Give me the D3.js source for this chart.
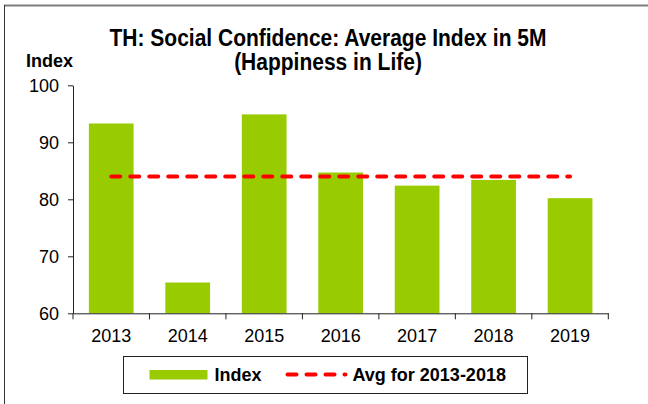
<!DOCTYPE html>
<html>
<head>
<meta charset="utf-8">
<script src="https://cdn.jsdelivr.net/npm/d3@7"></script>
<style>
  body { margin: 0; background: #fff; }
  svg { display: block; font-family: "Liberation Sans", Arial, sans-serif; }
  .axis path, .axis line { stroke: #222; }
  .axis text { font-size: 18px; fill: #000; }
</style>
</head>
<body>
<svg id="chart"></svg>
<script>
var years = ["2013", "2014", "2015", "2016", "2017", "2018", "2019"];
var indexValues = [93.3, 65.4, 94.9, 84.7, 82.4, 83.4, 80.2];
var avgValue = 84.0;
var avgYears = ["2013", "2019"];
var yTicks = [60, 70, 80, 90, 100];
var titleLines = ["TH: Social Confidence: Average Index in 5M", "(Happiness in Life)"];

var screen = {width: 648, height: 404};
var plot = {left: 73, right: 608.3, top: 85.3, bottom: 313.3};

var svg = d3.select("#chart")
    .attr("width", screen.width)
    .attr("height", screen.height);

// frame (top + left only)
svg.append("line")
    .attr("x1", 4).attr("x2", screen.width)
    .attr("y1", 5.5).attr("y2", 5.5)
    .attr("stroke", "#7f7f7f").attr("stroke-width", 2);
svg.append("line")
    .attr("x1", 4.5).attr("x2", 4.5)
    .attr("y1", 5).attr("y2", screen.height)
    .attr("stroke", "#333").attr("stroke-width", 1);

var xScale = d3.scaleBand()
    .domain(years)
    .range([plot.left, plot.right])
    .paddingInner(0.415)
    .paddingOuter(0.2075);

var yScale = d3.scaleLinear()
    .domain([60, 100])
    .range([plot.bottom, plot.top]);

// bars
svg.append("g")
    .selectAll("rect")
    .data(indexValues)
    .enter()
    .append("rect")
    .attr("x", function(d, i) { return xScale(years[i]); })
    .attr("width", xScale.bandwidth())
    .attr("y", function(d) { return yScale(d); })
    .attr("height", function(d) { return yScale(60) - yScale(d); })
    .attr("fill", "#99cc00");

// average line
var avgLine = d3.line()
    .x(function(y) { return xScale(y) + xScale.bandwidth() / 2; })
    .y(function() { return yScale(avgValue); });

svg.append("path")
    .datum(avgYears)
    .attr("d", avgLine)
    .attr("fill", "none")
    .attr("stroke", "#ff0000")
    .attr("stroke-width", 4)
    .attr("stroke-linecap", "round")
    .attr("stroke-dasharray", "9,10");

// y axis
var yAxis = d3.axisLeft(yScale)
    .tickValues(yTicks)
    .tickSize(5)
    .tickPadding(9)
    .tickSizeOuter(0);
svg.append("g")
    .attr("class", "axis")
    .attr("transform", "translate(" + plot.left + ",0)")
    .call(yAxis);

// x axis: labels centred, tick marks at category boundaries
var xAxis = d3.axisBottom(xScale)
    .tickSize(0)
    .tickPadding(15.5)
    .tickSizeOuter(0);
var xg = svg.append("g")
    .attr("class", "axis")
    .attr("transform", "translate(0," + plot.bottom + ")")
    .call(xAxis);

var half = xScale.step() * xScale.paddingInner() / 2;
var bounds = years.map(function(y) { return xScale(y) - half; });
bounds.push(xScale(years[years.length - 1]) + xScale.bandwidth() + half);
xg.selectAll(".bound")
    .data(bounds)
    .enter()
    .append("line")
    .attr("class", "bound")
    .attr("x1", function(d) { return d; })
    .attr("x2", function(d) { return d; })
    .attr("y1", 0).attr("y2", 6);

// titles
svg.append("g")
    .selectAll("text")
    .data(titleLines)
    .enter()
    .append("text")
    .text(function(d) { return d; })
    .attr("transform", function(d, i) {
        return "translate(328," + (45.7 + i * 24.3) + ") scale(1,1.1)";
    })
    .attr("text-anchor", "middle")
    .attr("font-weight", "bold")
    .attr("font-size", "21px");

svg.append("text")
    .text("Index")
    .attr("x", 26)
    .attr("y", 67)
    .attr("font-weight", "bold")
    .attr("font-size", "18px");

// legend
var legend = svg.append("g")
    .attr("transform", "translate(123.5,356.5)");
legend.append("rect")
    .attr("width", 404).attr("height", 37)
    .attr("fill", "#fff").attr("stroke", "#222");
legend.append("rect")
    .attr("x", 26).attr("y", 13.5)
    .attr("width", 58).attr("height", 9.5)
    .attr("fill", "#99cc00");
legend.append("text")
    .text("Index")
    .attr("x", 91).attr("y", 24)
    .attr("font-weight", "bold").attr("font-size", "18px");
legend.append("line")
    .attr("x1", 164).attr("x2", 222)
    .attr("y1", 18).attr("y2", 18)
    .attr("stroke", "#ff0000").attr("stroke-width", 4)
    .attr("stroke-linecap", "round")
    .attr("stroke-dasharray", "9,10");
legend.append("text")
    .text("Avg for 2013-2018")
    .attr("x", 229).attr("y", 24)
    .attr("font-weight", "bold").attr("font-size", "18px");
</script>
</body>
</html>
